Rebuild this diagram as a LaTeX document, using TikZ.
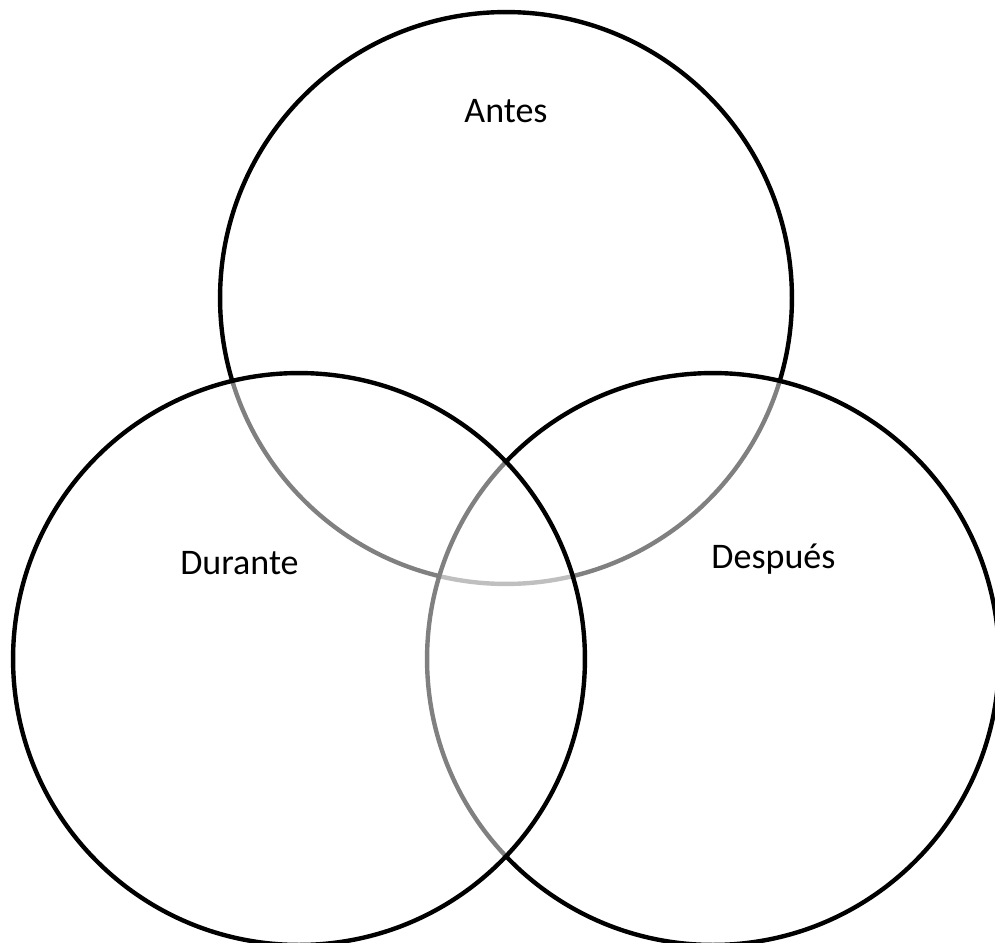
\documentclass[tikz,border=0pt]{standalone}
\usepackage{fontspec}
\setmainfont{Carlito}
\definecolor{ink}{HTML}{000000}

\begin{document}
\begin{tikzpicture}[x=0.02cm,y=-0.02cm,text=ink,
    font=\fontsize{20.5}{24}\selectfont,
    venn/.style={circle,draw=ink,line width=2.5pt,fill=white,fill opacity=.5,
      minimum size=11.44cm,inner sep=0pt},
    lbl/.style={anchor=base}]
  \useasboundingbox[fill=white] (0,0) rectangle (995,943);
  % drawn in this order, each one veils the strokes below it
  \node[venn] (antes) at (506,298) {};
  \node[venn] (despues) at (713,659) {};
  \node[venn] (durante) at (299,659) {};
  \node[lbl] (tantes) at (506,122) {Antes};
  \node[lbl] (tdurante) at (239.5,574) {Durante};
  \node[lbl] (tdespues) at (773.5,568) {Después};
\end{tikzpicture}
\end{document}
